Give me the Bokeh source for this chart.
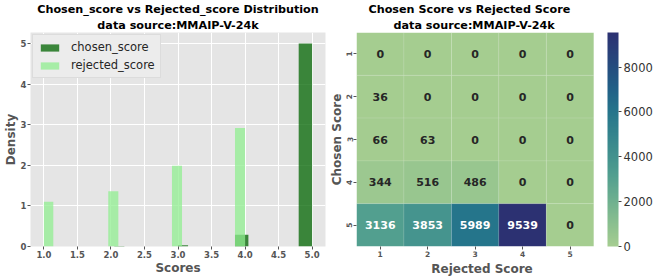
import numpy as np
from bokeh.plotting import figure
from bokeh.layouts import row
from bokeh.models import (Range1d, FixedTicker, Title, Legend, LegendItem,
                          LinearColorMapper, ColorBar, ColumnDataSource,
                          PrintfTickFormatter)
from bokeh.core.properties import value
from bokeh.embed import file_html
from bokeh.resources import INLINE

# ---------------- data ----------------
chosen_bin_left = [2.05, 3.0, 3.85, 4.8]
chosen_bin_right = [2.2, 3.15, 4.05, 5.0]
chosen_density = [0.01, 0.03, 0.29, 5.0]

rejected_bin_left = [1.0, 1.96, 2.91, 3.85]
rejected_bin_right = [1.14, 2.11, 3.06, 4.0]
rejected_density = [1.10, 1.36, 1.99, 2.92]

hist_xticks = [1.0, 1.5, 2.0, 2.5, 3.0, 3.5, 4.0, 4.5, 5.0]
hist_yticks = [0, 1, 2, 3, 4, 5]

chosen_scores = [1, 2, 3, 4, 5]
rejected_scores = [1, 2, 3, 4, 5]
counts = [
    [0, 0, 0, 0, 0],
    [36, 0, 0, 0, 0],
    [66, 63, 0, 0, 0],
    [344, 516, 486, 0, 0],
    [3136, 3853, 5989, 9539, 0],
]
cbar_ticks = [0, 2000, 4000, 6000, 8000]

FONT = "DejaVu Sans"
GRAY = "#555555"

stops = [(0.0, "#a5cd90"), (0.1, "#8cc08f"), (0.2, "#72b28f"), (0.33, "#529f8f"),
         (0.4, "#46958e"), (0.5, "#37878d"), (0.63, "#25758b"), (0.75, "#215e86"),
         (0.87, "#27477c"), (1.0, "#2c3172")]


def hex2rgb(h):
    return tuple(int(h[i:i + 2], 16) for i in (1, 3, 5))


palette = []
for t in np.linspace(0, 1, 256):
    for (t0, c0), (t1, c1) in zip(stops[:-1], stops[1:]):
        if t0 <= t <= t1:
            f = (t - t0) / (t1 - t0)
            a, b = hex2rgb(c0), hex2rgb(c1)
            rgb = [int(round(a[k] + f * (b[k] - a[k]))) for k in range(3)]
            palette.append("#%02x%02x%02x" % tuple(rgb))
            break


def titles(p, line1, line2, align="center", off1=0, off2=0):
    p.add_layout(Title(text=line2, align=align, offset=off2, text_font=FONT,
                       text_font_size="11.2px", text_font_style="bold", standoff=1,
                       text_line_height=0.95, text_color="black"), "above")
    p.add_layout(Title(text=line1, align=align, offset=off1, text_font=FONT,
                       text_font_size="11.2px", text_font_style="bold", standoff=1,
                       text_line_height=0.95, text_color="black"), "above")


def style_axes(p, size):
    for ax in (p.xaxis[0], p.yaxis[0]):
        ax.axis_line_color = None
        ax.major_tick_line_color = GRAY
        ax.major_tick_out = 3
        ax.major_tick_in = 0
        ax.minor_tick_line_color = None
        ax.major_label_text_font = FONT
        ax.major_label_text_font_size = size
        ax.major_label_text_font_style = "bold"
        ax.major_label_text_color = GRAY
        ax.major_label_text_line_height = 0.9
        ax.major_label_standoff = 1
        ax.axis_label_text_font = FONT
        ax.axis_label_text_font_size = "12px"
        ax.axis_label_text_font_style = "bold"
        ax.axis_label_text_color = GRAY
        ax.axis_label_text_line_height = 0.9
        ax.axis_label_standoff = 0


# ---------------- left: histogram ----------------
p1 = figure(width=326, height=277, x_range=Range1d(0.8, 5.2), y_range=Range1d(0, 5.27),
            output_backend="svg", toolbar_location=None,
            min_border_left=0, min_border_right=1, min_border_bottom=0, min_border_top=0,
            background_fill_color="#e5e5e5", outline_line_color=None)
titles(p1, "Chosen_score vs Rejected_score Distribution", "data source:MMAIP-V-24k")

r_ch = p1.quad(left=chosen_bin_left, right=chosen_bin_right, top=chosen_density, bottom=0,
               fill_color="#006400", fill_alpha=0.75, line_color=None)
r_rej = p1.quad(left=rejected_bin_left, right=rejected_bin_right, top=rejected_density,
                bottom=0, fill_color="#90ee90", fill_alpha=0.75, line_color=None)

p1.xaxis.ticker = FixedTicker(ticks=hist_xticks)
p1.xaxis.formatter = PrintfTickFormatter(format="%.1f")
p1.yaxis.ticker = FixedTicker(ticks=hist_yticks)
p1.xaxis.axis_label = "Scores"
p1.yaxis.axis_label = "Density"
style_axes(p1, "8.5px")
p1.grid.grid_line_color = "white"
p1.grid.grid_line_width = 1

legend = Legend(items=[LegendItem(label="chosen_score", renderers=[r_ch]),
                       LegendItem(label="rejected_score", renderers=[r_rej])],
                location="top_left", margin=2, padding=5, spacing=4,
                glyph_width=23, glyph_height=9, label_standoff=10,
                label_text_font=FONT, label_text_font_size="11.5px", label_text_color="#262626",
                label_height=14,
                background_fill_color="#ececec", background_fill_alpha=1.0,
                border_line_color="#cccccc", border_line_width=1)
p1.add_layout(legend)

# ---------------- right: heatmap ----------------
xs, ys, vals, labels, tcols = [], [], [], [], []
vmax = max(max(r) for r in counts)
for i, cs in enumerate(chosen_scores):
    for j, rs in enumerate(rejected_scores):
        v = counts[i][j]
        xs.append(rs)
        ys.append(cs)
        vals.append(v)
        labels.append(str(v))
        c = hex2rgb(palette[int(round(v / vmax * 255))])
        lum = 0.2126 * c[0] + 0.7152 * c[1] + 0.0722 * c[2]
        tcols.append("white" if lum < 150 else "#262626")

src = ColumnDataSource(dict(x=xs, y=ys, v=vals, label=labels, tc=tcols))
mapper = LinearColorMapper(palette=palette, low=0, high=vmax)

# a little empty room right of the cells separates them from the colour bar
p2 = figure(width=338, height=277, x_range=Range1d(0.5, 5.79), y_range=Range1d(5.5, 0.5),
            output_backend="svg", toolbar_location=None,
            min_border_left=0, min_border_right=57, min_border_bottom=0, min_border_top=0,
            outline_line_color=None)
titles(p2, "Chosen Score vs Rejected Score", "data source:MMAIP-V-24k",
       align="left", off1=12, off2=37)

p2.rect(x="x", y="y", width=1, height=1, source=src,
        fill_color={"field": "v", "transform": mapper},
        line_color="white", line_alpha=0.18, line_width=0.6)
p2.text(x="x", y="y", text="label", source=src, text_color="tc",
        text_align="center", text_baseline="middle", text_font=value(FONT),
        text_font_style="bold", text_font_size="11px")

p2.xaxis.ticker = FixedTicker(ticks=rejected_scores)
p2.yaxis.ticker = FixedTicker(ticks=chosen_scores)
p2.yaxis.major_label_orientation = "vertical"
p2.yaxis.axis_label = "Chosen Score"
style_axes(p2, "7.5px")
p2.add_layout(Title(text="Rejected Score", align="center", offset=-7, text_font=FONT,
                    text_font_size="12px", text_font_style="bold", text_color=GRAY,
                    text_line_height=0.9, standoff=0), "below")
p2.grid.grid_line_color = None

cbar = ColorBar(color_mapper=mapper, ticker=FixedTicker(ticks=cbar_ticks), width=11,
                padding=0, margin=0, bar_line_color=None, border_line_color=None,
                background_fill_color=None, major_tick_line_color="#444444",
                major_tick_in=0, major_tick_out=3, label_standoff=2,
                major_label_text_font=FONT, major_label_text_font_size="11.5px",
                major_label_text_color="#333333")
p2.add_layout(cbar, "right")

layout = row(p1, p2)
open("out.html", "w").write(file_html(layout, INLINE))
